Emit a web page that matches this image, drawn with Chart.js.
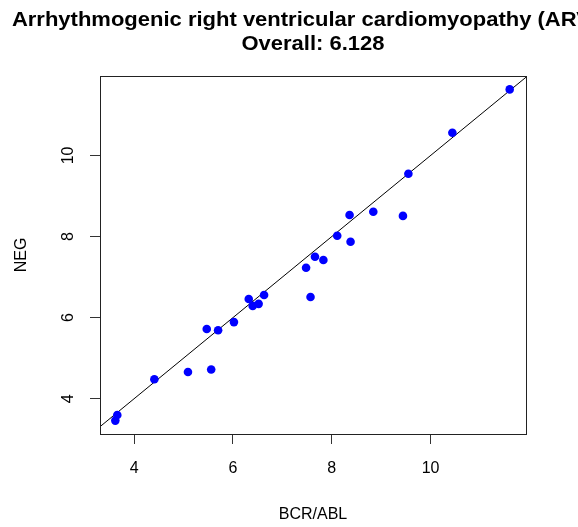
<!DOCTYPE html>
<html>
<head>
<meta charset="utf-8">
<script src="https://cdn.jsdelivr.net/npm/chart.js@4/dist/chart.umd.min.js"></script>
<style>
  html, body { margin: 0; padding: 0; background: #fff; }
  #wrap { width: 578px; height: 527px; }
</style>
</head>
<body>
<div id="wrap"><canvas id="chart" width="578" height="527"></canvas></div>
<script>
// BCR/ABL vs NEG values
const bcrAbl = [11.60, 10.44, 9.55, 8.36, 8.84, 9.44, 8.11, 8.38, 7.66, 7.83, 7.48, 7.57,
  6.32, 6.63, 6.40, 6.52, 6.02, 5.47, 5.70, 5.09, 5.56, 4.41, 3.66, 3.62];
const neg = [11.63, 10.56, 9.55, 8.53, 8.61, 8.51, 8.02, 7.87, 7.50, 7.42, 7.23, 6.51,
  6.46, 6.56, 6.29, 6.34, 5.89, 5.72, 5.69, 4.66, 4.72, 4.48, 3.60, 3.46];

const xTicks = [4, 6, 8, 10];
const yTicks = [4, 6, 8, 10];
const xRange = [3.31, 11.93];
const yRange = [3.13, 11.96];

// identity reference line
const ablineIntercept = 0;
const ablineSlope = 1;

const titleLines = ['Arrhythmogenic right ventricular cardiomyopathy (ARVC)', 'Overall: 6.128'];

const points = bcrAbl.map((x, i) => ({ x: x, y: neg[i] }));
const ablinePoints = xRange.map((x) => ({ x: x, y: ablineIntercept + ablineSlope * x }));

const fontFamily = '"Liberation Sans", Arial, Helvetica, sans-serif';

const titlePlugin = {
  id: 'rTitle',
  afterDraw(chart) {
    const ctx = chart.ctx;
    const area = chart.chartArea;
    const cx = (area.left + area.right) / 2;
    ctx.save();
    ctx.fillStyle = '#000';
    ctx.font = 'bold 20px ' + fontFamily;
    ctx.textAlign = 'center';
    ctx.textBaseline = 'middle';
    const ys = [20, 44];
    titleLines.forEach((line, i) => {
      ctx.save();
      ctx.translate(cx, ys[i]);
      ctx.scale(1.1, 1);
      ctx.fillText(line, 0, 0);
      ctx.restore();
    });
    // plot box
    ctx.strokeStyle = '#222';
    ctx.lineWidth = 1;
    ctx.strokeRect(area.left + 0.5, area.top + 0.5, area.right - area.left, area.bottom - area.top);
    ctx.restore();
  }
};

const ctx = document.getElementById('chart');
new Chart(ctx, {
  type: 'scatter',
  data: {
    datasets: [
      {
        label: 'samples',
        data: points,
        backgroundColor: '#0000ff',
        borderColor: '#0000ff',
        borderWidth: 0,
        pointRadius: 4.3,
        pointHoverRadius: 4.3,
      },
      {
        type: 'line',
        label: 'y = x',
        data: ablinePoints,
        borderColor: '#000',
        borderWidth: 1,
        pointRadius: 0,
        fill: false,
      },
    ],
  },
  options: {
    responsive: false,
    animation: false,
    events: [],
    layout: { padding: { top: 76, right: 52, left: 0, bottom: 0 } },
    plugins: {
      legend: { display: false },
      tooltip: { enabled: false },
    },
    scales: {
      x: {
        type: 'linear',
        min: xRange[0],
        max: xRange[1],
        afterBuildTicks: (scale) => { scale.ticks = xTicks.map((v) => ({ value: v })); },
        afterFit: (scale) => { scale.height = 93; },
        grid: { drawOnChartArea: false, drawTicks: true, tickLength: 10, color: '#333' },
        border: { display: false },
        ticks: { color: '#000', padding: 15, font: { family: fontFamily, size: 16 }, maxRotation: 0 },
        title: { display: true, text: 'BCR/ABL', color: '#000', font: { family: fontFamily, size: 16 }, padding: { bottom: 3 } },
      },
      y: {
        type: 'linear',
        min: yRange[0],
        max: yRange[1],
        afterBuildTicks: (scale) => { scale.ticks = yTicks.map((v) => ({ value: v })); },
        afterFit: (scale) => { scale.width = 100; },
        grid: { drawOnChartArea: false, drawTicks: true, tickLength: 10, color: '#333' },
        border: { display: false },
        ticks: { color: '#000', padding: 13, minRotation: 90, maxRotation: 90, crossAlign: 'center', font: { family: fontFamily, size: 16 } },
        title: { display: true, text: 'NEG', color: '#000', font: { family: fontFamily, size: 16 }, padding: { top: 12 } },
      },
    },
  },
  plugins: [titlePlugin],
});
</script>
</body>
</html>
